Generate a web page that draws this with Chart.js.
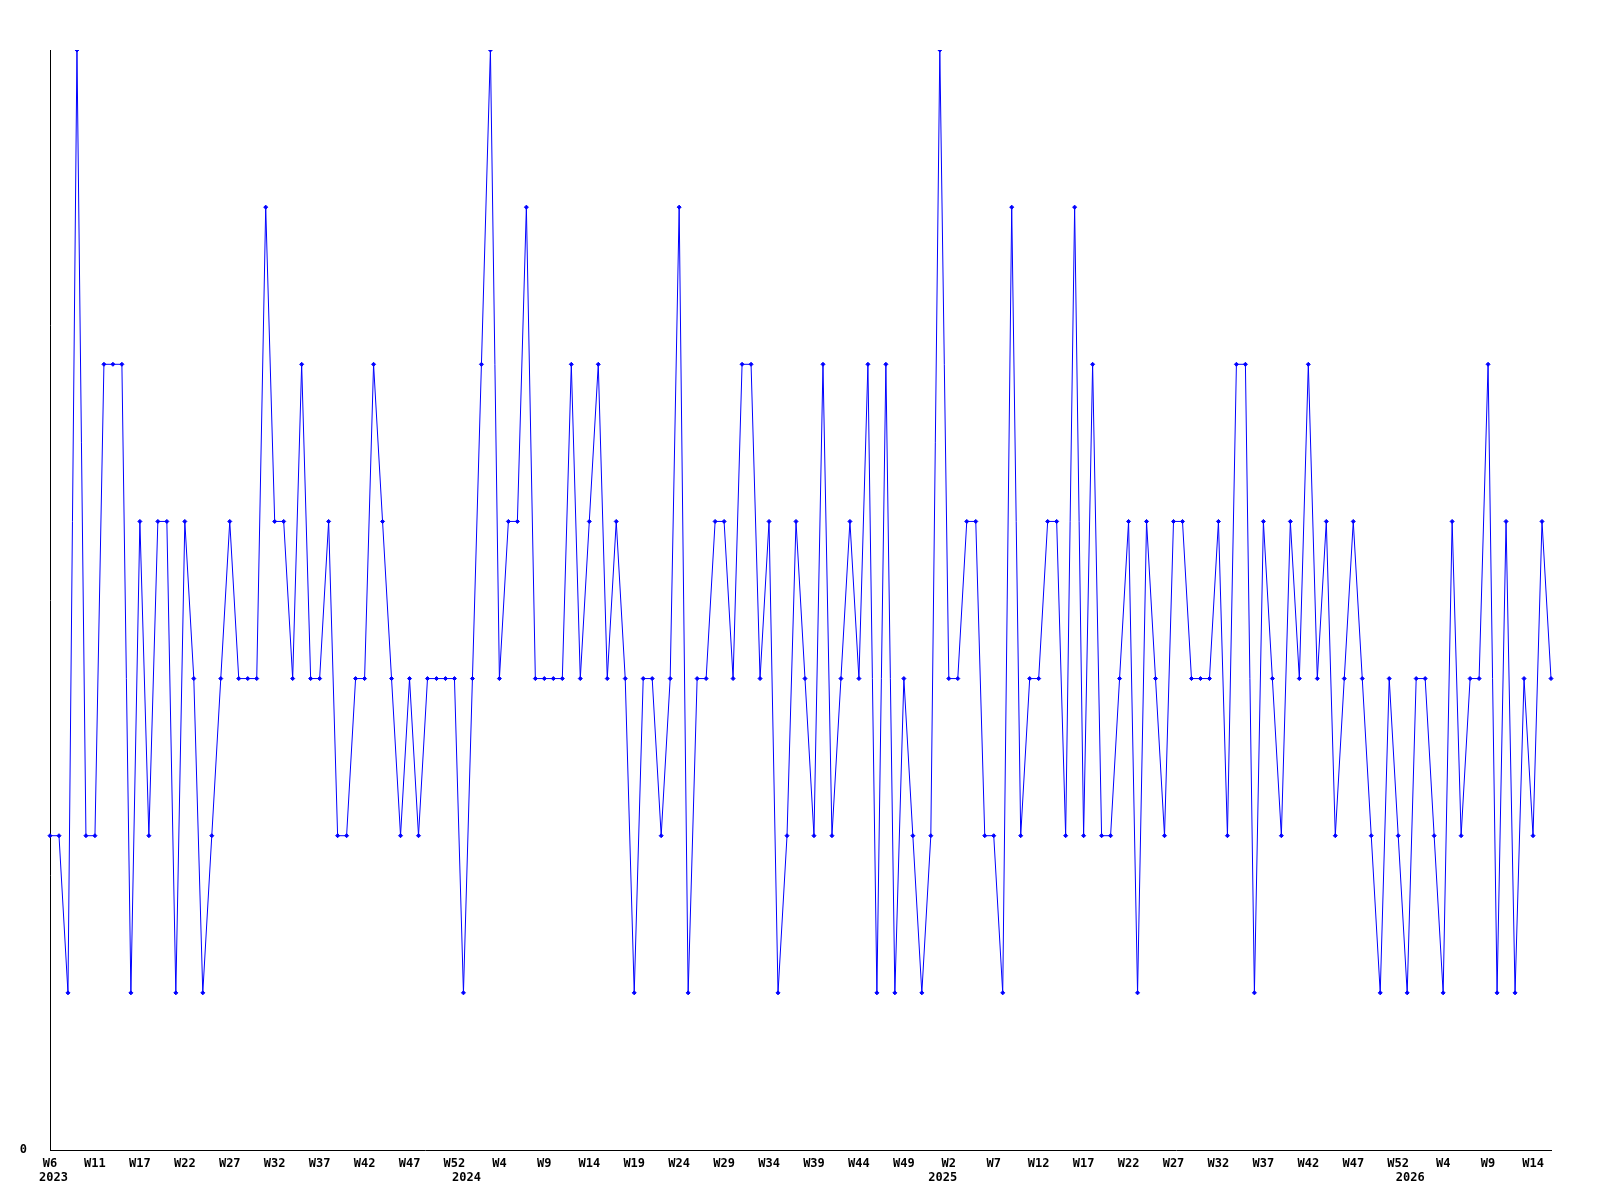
<!DOCTYPE html>
<html>
<head>
<meta charset="utf-8">
<title>Weekly chart</title>
<script src="https://cdn.jsdelivr.net/npm/chart.js@4.4.1/dist/chart.umd.min.js"></script>
<style>
    html, body { margin: 0; padding: 0; background: #fff; }
    #wrap { width: 1600px; height: 1200px; }
</style>
</head>
<body>
<div id="wrap"><canvas id="weekChart" width="1600" height="1200"></canvas></div>
<script>
// -------- DATA --------
// one value per week, 2023 W6 .. 2026
const values = [
    2, 2, 1, 7, 2, 2, 5, 5, 5, 1, 4, 2, 4, 4, 1, 4, 3, 1, 2, 3, 4, 3, 3, 3, 6, 4, 4, 3, 5,
    3, 3, 4, 2, 2, 3, 3, 5, 4, 3, 2, 3, 2, 3, 3, 3, 3, 1, 3, 5, 7, 3, 4, 4, 6, 3, 3,
    3, 3, 5, 3, 4, 5, 3, 4, 3, 1, 3, 3, 2, 3, 6, 1, 3, 3, 4, 4, 3, 5, 5, 3, 4, 1, 2, 4,
    3, 2, 5, 2, 3, 4, 3, 5, 1, 5, 1, 3, 2, 1, 2, 7, 3, 3, 4, 4, 2, 2, 1, 6, 2, 3, 3, 4,
    4, 2, 6, 2, 5, 2, 2, 3, 4, 1, 4, 3, 2, 4, 4, 3, 3, 3, 4, 2, 5, 5, 1, 4, 3, 2, 4, 3,
    5, 3, 4, 2, 3, 4, 3, 2, 1, 3, 2, 1, 3, 3, 2, 1, 4, 2, 3, 3, 5, 1, 4, 1, 3, 2, 4, 3
];

// x tick labels, one every 5 weeks
const tickLabels = [
    "W6", "W11", "W17", "W22", "W27", "W32", "W37", "W42", "W47", "W52",
    "W4", "W9", "W14", "W19", "W24", "W29", "W34", "W39", "W44", "W49",
    "W2", "W7", "W12", "W17", "W22", "W27", "W32", "W37", "W42", "W47",
    "W52", "W4", "W9", "W14"
];
const tickEvery = 5;

// year labels and the week index where each one sits
const years = ["2023", "2024", "2025", "2026"];
const yearStarts = [0, 46, 99, 151];

const yMin = 0;
const yMax = 7;

document.addEventListener("DOMContentLoaded", () => {
    const FONT = "'DejaVu Sans Mono', 'Liberation Mono', monospace";
    Chart.defaults.font.family = FONT;
    Chart.defaults.font.size = 12;
    Chart.defaults.font.weight = "bold";
    Chart.defaults.color = "#000";

    const weeks = values.map((v, i) => i);

    // -------- YEAR ROW --------
    const yearRow = {
        id: "yearRow",
        afterDraw(chart) {
            const ctx = chart.ctx;
            const x = chart.scales.x;
            ctx.save();
            ctx.font = "bold 12px " + FONT;
            ctx.fillStyle = "#000";
            ctx.textBaseline = "middle";
            years.forEach((y, i) => {
                const px = x.getPixelForValue(yearStarts[i]);
                if (i === 0) {
                    ctx.textAlign = "left";
                    ctx.fillText(y, px - 11, 1178);
                } else {
                    ctx.textAlign = "center";
                    ctx.fillText(y, px + 3, 1178);
                }
            });
            ctx.restore();
        }
    };

    // -------- CHART --------
    const ctx = document.getElementById("weekChart").getContext("2d");

    new Chart(ctx, {
        type: "line",
        data: {
            labels: weeks,
            datasets: [{
                data: values,
                borderColor: "#0000ff",
                backgroundColor: "#0000ff",
                borderWidth: 1,
                tension: 0,
                fill: false,
                pointStyle: "rectRot",
                pointRadius: 2,
                pointBorderWidth: 1
            }]
        },
        options: {
            responsive: false,
            animation: false,
            layout: { padding: { top: 50, right: 49, left: 0, bottom: 0 } },
            plugins: {
                legend: { display: false },
                tooltip: { enabled: false }
            },
            scales: {
                x: {
                    type: "category",
                    offset: false,
                    grid: { display: false, drawTicks: false },
                    border: { display: true, color: "#000", width: 1 },
                    ticks: {
                        autoSkip: false,
                        maxRotation: 0,
                        padding: 7,
                        callback: (v, i) => i % tickEvery === 0 ? tickLabels[i / tickEvery] : null
                    },
                    afterFit: s => { s.height = 50; }
                },
                y: {
                    min: yMin,
                    max: yMax,
                    grid: { display: false, drawTicks: false },
                    border: { display: true, color: "#000", width: 1 },
                    ticks: {
                        stepSize: 1,
                        padding: 23,
                        callback: v => v === 0 ? "0" : null
                    },
                    afterFit: s => { s.width = 50; }
                }
            }
        },
        plugins: [yearRow]
    });
});
</script>
</body>
</html>
